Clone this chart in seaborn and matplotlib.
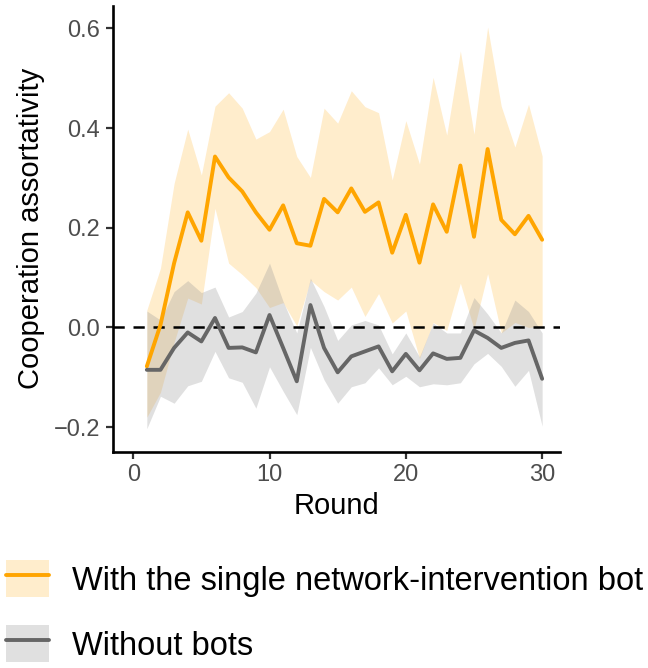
import numpy as np
import pandas as pd
import matplotlib
matplotlib.use("Agg")
import matplotlib.pyplot as plt
from matplotlib.patches import Patch
from matplotlib.lines import Line2D
import seaborn as sns

# Rounds of the game
rounds = [1, 2, 3, 4, 5, 6, 7, 8, 9, 10, 11, 12, 13, 14, 15,
          16, 17, 18, 19, 20, 21, 22, 23, 24, 25, 26, 27, 28, 29, 30]

# With the single network-intervention bot (mean and band)
bot_mean = [-0.078, 0.005, 0.129, 0.231, 0.174, 0.343, 0.301, 0.273, 0.231, 0.196,
            0.245, 0.169, 0.164, 0.258, 0.231, 0.279, 0.232, 0.251, 0.150, 0.226,
            0.130, 0.247, 0.192, 0.325, 0.182, 0.358, 0.216, 0.187, 0.224, 0.176]
bot_upper = [0.035, 0.119, 0.289, 0.398, 0.306, 0.444, 0.471, 0.440, 0.378, 0.393,
             0.438, 0.343, 0.301, 0.440, 0.410, 0.475, 0.443, 0.431, 0.296, 0.415,
             0.328, 0.502, 0.386, 0.555, 0.388, 0.603, 0.444, 0.362, 0.448, 0.344]
bot_lower = [-0.180, -0.130, -0.030, 0.059, 0.047, 0.239, 0.129, 0.106, 0.080, 0.040,
             0.050, 0.003, 0.095, 0.072, 0.055, 0.081, 0.022, 0.068, 0.009, 0.033,
             -0.062, 0.010, -0.006, 0.089, -0.003, 0.108, -0.011, 0.010, 0.000, 0.003]

# Without bots (mean and band)
nobot_mean = [-0.085, -0.085, -0.041, -0.010, -0.028, 0.019, -0.041, -0.040, -0.050, 0.025,
              -0.041, -0.108, 0.045, -0.041, -0.090, -0.058, -0.048, -0.038, -0.088, -0.053,
              -0.086, -0.052, -0.063, -0.061, -0.006, -0.021, -0.041, -0.031, -0.026, -0.103]
nobot_upper = [0.033, 0.015, 0.072, 0.094, 0.070, 0.081, 0.021, 0.032, 0.069, 0.129,
               0.052, -0.011, 0.099, 0.042, -0.026, 0.005, 0.014, 0.005, -0.053, -0.011,
               -0.059, 0.009, -0.011, -0.011, 0.060, 0.027, -0.011, 0.055, 0.032, -0.011]
nobot_lower = [-0.203, -0.138, -0.152, -0.117, -0.108, -0.048, -0.101, -0.110, -0.162, -0.079,
               -0.128, -0.175, -0.040, -0.105, -0.152, -0.119, -0.111, -0.081, -0.115, -0.098,
               -0.119, -0.113, -0.115, -0.111, -0.073, -0.052, -0.078, -0.118, -0.086, -0.198]

labels = ["With the single network-intervention bot", "Without bots"]
line_colors = {labels[0]: "#FFA500", labels[1]: "#666666"}
band_colors = {labels[0]: ("#FFA500", 0.2), labels[1]: ("#999999", 0.3)}

df = pd.concat([
    pd.DataFrame({"Round": rounds, "value": bot_mean, "lo": bot_lower,
                  "hi": bot_upper, "cond": labels[0]}),
    pd.DataFrame({"Round": rounds, "value": nobot_mean, "lo": nobot_lower,
                  "hi": nobot_upper, "cond": labels[1]}),
])

sns.set_style("white")
plt.rcParams["font.family"] = ["Liberation Sans", "DejaVu Sans"]

fig = plt.figure(figsize=(6.48, 6.68), dpi=100)
ax = fig.add_axes([0.174, 0.324, 0.690, 0.667])

# confidence bands
for lab in labels:
    sub = df[df["cond"] == lab]
    col, a = band_colors[lab]
    ax.fill_between(sub["Round"], sub["lo"], sub["hi"], color=col, alpha=a,
                    linewidth=0)

ax.axhline(0, color="black", linestyle=(0, (4.5, 3.5)), linewidth=1.8, zorder=2)

sns.lineplot(data=df, x="Round", y="value", hue="cond", hue_order=labels,
             palette=line_colors, linewidth=2.8, legend=False, ax=ax, zorder=3)

ax.set_xlim(-1.5, 31.3)
ax.set_ylim(-0.249, 0.645)
ax.set_xticks([0, 10, 20, 30])
ax.set_yticks([-0.2, 0.0, 0.2, 0.4, 0.6])
ax.set_yticklabels(["\u22120.2", "0.0", "0.2", "0.4", "0.6"])
ax.set_xlabel("Round", fontsize=21, color="black", labelpad=4)
ax.set_ylabel("Cooperation assortativity", fontsize=21, color="black", labelpad=6)
ax.tick_params(axis="both", labelsize=17, labelcolor="#4D4D4D", color="#333333",
               length=5, width=1.6, bottom=True, left=True, pad=4)

sns.despine(ax=ax)
for side in ["left", "bottom"]:
    ax.spines[side].set_linewidth(1.9)
    ax.spines[side].set_color("black")

handles = [
    (Patch(facecolor="#FFA500", alpha=0.2, edgecolor="none"),
     Line2D([], [], color="#FFA500", linewidth=2.8)),
    (Patch(facecolor="#999999", alpha=0.3, edgecolor="none"),
     Line2D([], [], color="#666666", linewidth=2.8)),
]
leg = fig.legend(handles, labels, loc="upper left", bbox_to_anchor=(0.009, 0.161),
                 frameon=False, fontsize=23.5, handlelength=1.32, handleheight=1.36,
                 handletextpad=0.7, labelspacing=0.86, borderpad=0, borderaxespad=0)
for t in leg.get_texts():
    t.set_color("black")

fig.savefig("out.png", dpi=100)
